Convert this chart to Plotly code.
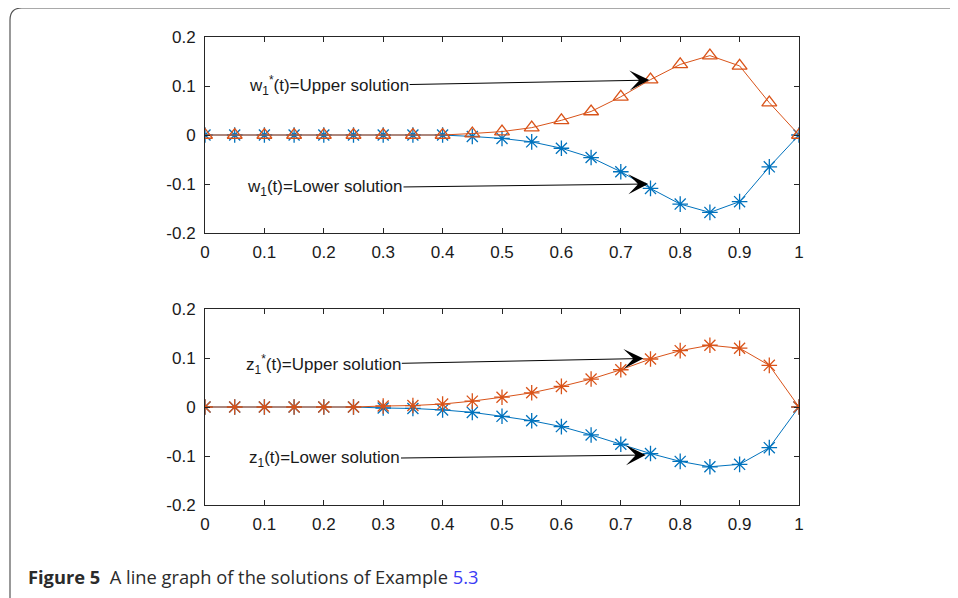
import plotly.graph_objects as go

# ---- data ----
t = [0, 0.05, 0.1, 0.15, 0.2, 0.25, 0.3, 0.35, 0.4, 0.45, 0.5,
     0.55, 0.6, 0.65, 0.7, 0.75, 0.8, 0.85, 0.9, 0.95, 1.0]

w_upper = [0, 0, 0, 0, 0, 0, 0, 0, 0, 0.003, 0.007,
           0.015, 0.030, 0.048, 0.078, 0.113, 0.144, 0.162, 0.141, 0.066, 0]
w_lower = [0, 0, 0, 0, 0, 0, 0, 0, 0, -0.003, -0.007,
           -0.014, -0.027, -0.046, -0.075, -0.109, -0.141, -0.158, -0.136, -0.065, 0]

z_upper = [0, 0, 0, 0, 0, 0, 0.002, 0.003, 0.006, 0.012, 0.020,
           0.029, 0.042, 0.057, 0.076, 0.098, 0.115, 0.126, 0.120, 0.085, 0]
z_lower = [0, 0, 0, 0, 0, 0, -0.002, -0.003, -0.006, -0.011, -0.019,
           -0.028, -0.040, -0.057, -0.076, -0.095, -0.111, -0.122, -0.117, -0.083, 0]

x_tickvals = [0, 0.1, 0.2, 0.3, 0.4, 0.5, 0.6, 0.7, 0.8, 0.9, 1]
x_ticktext = ["0", "0.1", "0.2", "0.3", "0.4", "0.5", "0.6", "0.7", "0.8", "0.9", "1"]
y_tickvals = [-0.2, -0.1, 0, 0.1, 0.2]
y_ticktext = ["-0.2", "-0.1", "0", "0.1", "0.2"]

labels = ["w<sub>1</sub><sup>*</sup>(t)=Upper solution",
          "w<sub>1</sub>(t)=Lower solution",
          "z<sub>1</sub><sup>*</sup>(t)=Upper solution",
          "z<sub>1</sub>(t)=Lower solution"]
# (text x, text y, tip x, tip y) in data units
label_pos = [(0.209, 0.100, 0.748, 0.112),
             (0.202, -0.108, 0.746, -0.100),
             (0.200, 0.086, 0.738, 0.099),
             (0.202, -0.106, 0.742, -0.098)]
caption = ("<b>Figure 5</b>  A line graph of the solutions of Example "
           "<span style='color:#3b3bf5'>5.3</span>")

# ---- figure ----
W, H = 958, 598
OFF = 8  # page body margin offset
BLUE = "#0072BD"
ORANGE = "#D95319"
FONT = "Liberation Sans, Arial, sans-serif"

fig = go.Figure()

def add_pair(xa, ya, lower, upper, upper_symbol):
    fig.add_trace(go.Scatter(
        x=t, y=lower, xaxis=xa, yaxis=ya, mode="lines+markers",
        line=dict(color=BLUE, width=1),
        marker=dict(symbol="asterisk-open", size=13,
                    line=dict(color=BLUE, width=1.3), color=BLUE),
        showlegend=False))
    fig.add_trace(go.Scatter(
        x=t, y=upper, xaxis=xa, yaxis=ya, mode="lines+markers",
        line=dict(color=ORANGE, width=1),
        marker=dict(symbol=upper_symbol, size=13,
                    line=dict(color=ORANGE, width=1.3), color=ORANGE),
        showlegend=False))

add_pair("x", "y", w_lower, w_upper, "triangle-up-open")
add_pair("x2", "y2", z_lower, z_upper, "asterisk-open")

def px_x(p):
    return (p - OFF) / W

def px_y(p):
    return 1 - (p - OFF) / H

axis_common = dict(showline=True, linecolor="#262626", linewidth=1,
                   mirror="ticks", ticks="inside", ticklen=5,
                   tickcolor="#262626", showgrid=False, zeroline=False,
                   automargin=False,
                   tickfont=dict(family=FONT, size=17, color="#1a1a1a"))

fig.update_layout(
    width=W, height=H, autosize=False,
    template="none",
    margin=dict(l=0, r=0, t=0, b=0, pad=0, autoexpand=False),
    paper_bgcolor="white", plot_bgcolor="white",
    xaxis=dict(domain=[px_x(205), px_x(799)], range=[0, 1], anchor="y",
               tickvals=x_tickvals, ticktext=x_ticktext,
               ticklabelstandoff=4, **axis_common),
    yaxis=dict(domain=[px_y(233), px_y(37)], range=[-0.2, 0.2], anchor="x",
               tickvals=y_tickvals, ticktext=y_ticktext,
               ticklabelstandoff=5, **axis_common),
    xaxis2=dict(domain=[px_x(205), px_x(799)], range=[0, 1], anchor="y2",
                tickvals=x_tickvals, ticktext=x_ticktext,
                ticklabelstandoff=4, **axis_common),
    yaxis2=dict(domain=[px_y(505), px_y(309)], range=[-0.2, 0.2], anchor="x2",
                tickvals=y_tickvals, ticktext=y_ticktext,
                ticklabelstandoff=5, **axis_common),
)

refs = [("x", "y"), ("x", "y"), ("x2", "y2"), ("x2", "y2")]
for (xr, yr), txt, (tx, ty, px, py) in zip(refs, labels, label_pos):
    fig.add_annotation(
        x=px, y=py, xref=xr, yref=yr,
        ax=tx, ay=ty, axref=xr, ayref=yr,
        text=txt, showarrow=True, arrowhead=3, arrowsize=3.3,
        arrowwidth=1, arrowcolor="black",
        font=dict(family=FONT, size=17, color="#1a1a1a"),
        borderpad=0)

# caption
fig.add_annotation(
    x=px_x(26), y=px_y(576), xref="paper", yref="paper",
    xanchor="left", yanchor="middle", showarrow=False,
    text=caption,
    font=dict(family="Open Sans, Noto Sans, sans-serif", size=18.3, color="#2b2b2b"))

# outer frame with rounded top-left corner
x0, y0, r = px_x(10), px_y(8), 12
path = (f"M {x0},{px_y(620)} L {x0},{px_y(8 + r)} "
        f"Q {x0},{y0} {px_x(10 + r)},{y0} L {px_x(970)},{y0}")
fig.add_shape(type="path", path=path, xref="paper", yref="paper",
              line=dict(color="#555555", width=1.2))

fig.write_html("out.html")
